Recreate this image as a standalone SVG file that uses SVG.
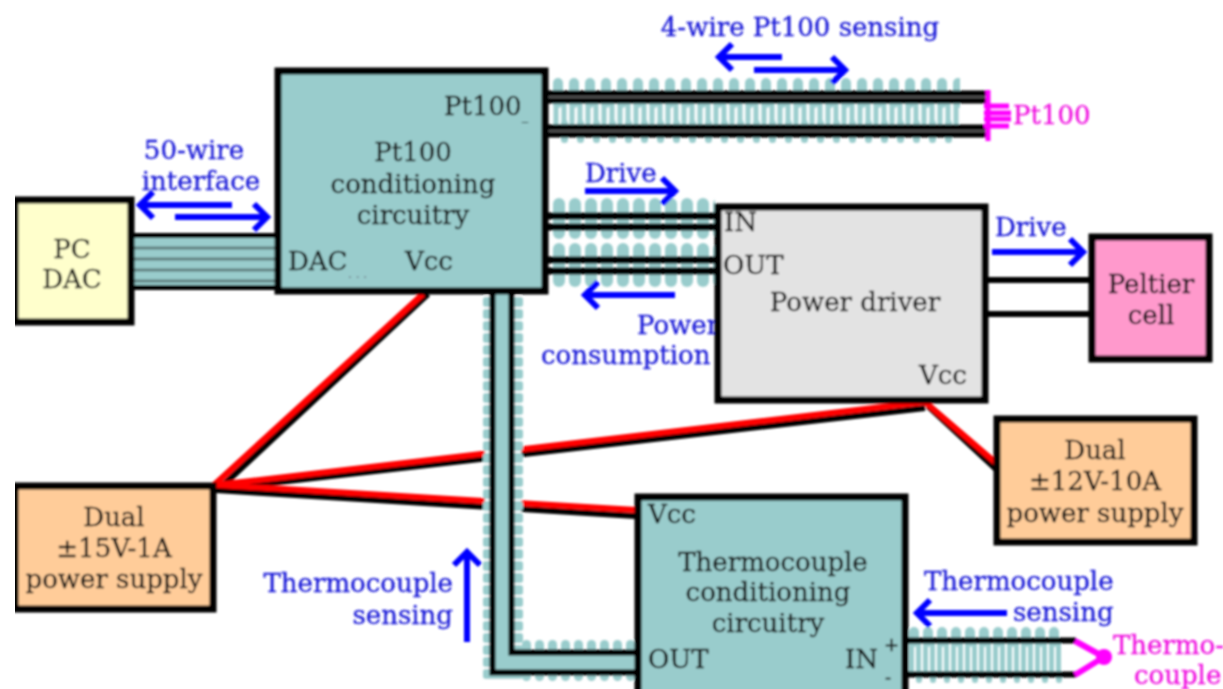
<svg xmlns="http://www.w3.org/2000/svg" width="1223" height="689" viewBox="0 0 1223 689">
<style>
text{font-family:"DejaVu Serif","Liberation Serif",serif;font-size:26px;fill:#111;stroke:#111;stroke-width:.3}
.b{fill:#1c1cd8;stroke:#1c1cd8}.p{fill:#f014e0;stroke:#f014e0}.m{text-anchor:middle}.e{text-anchor:end}
.box{stroke:#000;stroke-width:7}
.w{stroke:#000;fill:none}
.r{stroke:#f00;stroke-width:6;fill:none}
.k{stroke:#000;stroke-width:6;fill:none}
.a{stroke:#00f;stroke-width:6;fill:none;marker-end:url(#ah)}
.pk{stroke:#f0f;fill:none}
</style>
<defs>
<filter id="soft" x="0" y="0" width="100%" height="100%"><feGaussianBlur stdDeviation="0.9"/></filter>
<marker id="ah" markerUnits="userSpaceOnUse" markerWidth="34" markerHeight="34" refX="24" refY="17" orient="auto"><path d="M10 4L23 17L10 30" fill="none" stroke="#00f" stroke-width="6"/></marker>
<pattern id="t1" patternUnits="userSpaceOnUse" x="552" y="78" width="16" height="30"><rect x="1" width="10" height="30" rx="5" fill="#99cccc"/></pattern>
<pattern id="t2" patternUnits="userSpaceOnUse" x="552" y="120" width="16" height="23"><rect x="9" width="7" height="23" rx="3.500" fill="#99cccc"/></pattern>
<pattern id="tm" patternUnits="userSpaceOnUse" x="552" y="100" width="8" height="30"><rect x="1.500" width="5" height="30" fill="#99cccc"/></pattern>
<pattern id="d1" patternUnits="userSpaceOnUse" x="552" y="198" width="16" height="41"><rect x="1" width="12" height="41" rx="6" fill="#99cccc"/></pattern>
<pattern id="d2" patternUnits="userSpaceOnUse" x="552" y="243" width="16" height="44"><rect x="1" width="12" height="44" rx="6" fill="#99cccc"/></pattern>
<pattern id="c1" patternUnits="userSpaceOnUse" x="908" y="627" width="14" height="20"><rect x="1" width="10" height="20" rx="5" fill="#99cccc"/></pattern>
<pattern id="c2" patternUnits="userSpaceOnUse" x="908" y="670" width="14" height="13"><rect x="8" width="6" height="13" rx="3" fill="#99cccc"/></pattern>
<pattern id="cm" patternUnits="userSpaceOnUse" x="908" y="640" width="7" height="36"><rect x="1" width="5" height="36" fill="#99cccc"/></pattern>
<pattern id="v1" patternUnits="userSpaceOnUse" x="483" y="296" width="40" height="12"><rect y="1" width="40" height="10" rx="3" fill="#99cccc"/></pattern>
<pattern id="h1" patternUnits="userSpaceOnUse" x="520" y="640" width="13" height="41"><rect x="2" width="9" height="41" rx="4.500" fill="#99cccc"/></pattern>
</defs>
<rect width="1223" height="689" fill="#fff"/>
<g filter="url(#soft)">
<g id="connectors">
<path class="k" d="M219 489L428 294M218 489L925 408M216 490L636 516M928 406L996 469"/>
<path class="r" d="M214 485L423 294M216 485L925 402M216 485L637 510M925 402L996 463"/>
<rect x="485" y="296" width="36" height="384" fill="#fff"/>
<rect x="483" y="296" width="40" height="384" fill="url(#v1)"/>
<rect x="520" y="640" width="115" height="41" fill="url(#h1)"/>
<path d="M493 294V672H635V652H511V294Z" fill="#99cccc"/>
<path class="w" stroke-width="6" d="M492.500 294V672.500H636M511.500 294V652.500H636"/>
<rect x="134" y="236" width="141" height="52" fill="#99cccc"/>
<path class="w" stroke-width="5" d="M134 235.500H275M134 287.500H275"/>
<path d="M134 248H275M134 259H275M134 270H275M134 281H275" stroke="#5f8080" stroke-width="3" fill="none"/>
<rect x="552" y="78" width="408" height="30" fill="url(#t1)"/>
<rect x="552" y="100" width="408" height="30" fill="url(#tm)"/>
<rect x="552" y="120" width="408" height="23" fill="url(#t2)"/>
<path class="w" stroke-width="13" d="M548 97H988M548 131H988"/>
<path d="M548 97H988M548 131H988" stroke="#555" stroke-width="2" fill="none"/>
<rect x="552" y="198" width="163" height="41" fill="url(#d1)"/>
<rect x="552" y="243" width="163" height="44" fill="url(#d2)"/>
<path class="w" stroke-width="7" d="M548 216H716M548 227H716M548 260H716M548 271H716"/>
<path class="w" stroke-width="6" d="M988 280H1090M988 314H1090"/>
<rect x="908" y="627" width="154" height="20" fill="url(#c1)"/>
<rect x="908" y="640" width="154" height="36" fill="url(#cm)"/>
<rect x="908" y="670" width="154" height="13" fill="url(#c2)"/>
<path class="w" stroke-width="6" d="M908 640.500H1076M908 674.500H1076"/>
<path class="pk" stroke-width="5" d="M988 90V141M984 106H1009M984 113H1011M984 119H1011M984 126H1009"/>
<path class="pk" stroke-width="6" d="M1075 641L1104 657L1075 675"/>
<circle cx="1104" cy="657" r="8" fill="#f0f"/>
<path class="a" d="M232 205H139"/>
<path class="a" d="M175 217H268"/>
<path class="a" d="M782 57H718"/>
<path class="a" d="M754 70H846"/>
<path class="a" d="M585 191H676"/>
<path class="a" d="M675 295H584"/>
<path class="a" d="M992 252H1084"/>
<path class="a" d="M467 642V551"/>
<path class="a" d="M1007 613H916"/>
</g>
<g id="labels">
<text class="b m" x="800" y="36">4-wire Pt100 sensing</text>
<text class="b m" x="194" y="159">50-wire</text>
<text class="b m" x="201" y="190">interface</text>
<text class="b" x="585" y="182">Drive</text>
<text class="b" x="995" y="236">Drive</text>
<text class="b" x="637" y="334">Power</text>
<text class="b" x="541" y="364">consumption</text>
<text class="b e" x="453" y="592">Thermocouple</text>
<text class="b e" x="453" y="624">sensing</text>
<text class="b" x="924" y="590">Thermocouple</text>
<text class="b" x="1013" y="621">sensing</text>
<text class="p" x="1013" y="124">Pt100</text>
<text class="p" x="1113" y="654">Thermo-</text>
<text class="p" x="1134" y="684">couple</text>
</g>
<g id="pc-dac"><rect class="box" x="15" y="200" width="116" height="122" fill="#ffffcc"/>
<text class="m" x="72" y="258">PC</text><text class="m" x="72" y="288">DAC</text></g>
<g id="pt100-conditioning"><rect class="box" x="278" y="71" width="267" height="220" fill="#99cccc"/>
<text x="444" y="115">Pt100</text><text x="522" y="120" style="font-size:12px">_</text>
<text class="m" x="413" y="161">Pt100</text><text class="m" x="413" y="193">conditioning</text><text class="m" x="413" y="224">circuitry</text>
<text x="288" y="270">DAC</text><text x="348" y="278" style="font-size:12px;fill:#667;stroke:none">. . .</text><text x="405" y="270">Vcc</text></g>
<g id="power-driver"><rect class="box" x="718" y="207" width="267" height="193" fill="#e3e3e3"/>
<text x="724" y="231">IN</text><text x="723" y="274">OUT</text><text class="m" x="855" y="311">Power driver</text><text x="919" y="384">Vcc</text></g>
<g id="peltier"><rect class="box" x="1092" y="237" width="117" height="122" fill="#ff99cc"/>
<text class="m" x="1151" y="293">Peltier</text><text class="m" x="1151" y="324">cell</text></g>
<g id="supply-12v"><rect class="box" x="997" y="419" width="197" height="123" fill="#ffcc99"/>
<text class="m" x="1095" y="459">Dual</text><text class="m" x="1095" y="490">±12V-10A</text><text class="m" x="1095" y="522">power supply</text></g>
<g id="supply-15v"><rect class="box" x="15" y="486" width="198" height="123" fill="#ffcc99"/>
<text class="m" x="114" y="526">Dual</text><text class="m" x="114" y="557">±15V-1A</text><text class="m" x="114" y="588">power supply</text></g>
<g id="thermocouple-conditioning"><rect class="box" x="638" y="497" width="267" height="200" fill="#99cccc"/>
<text x="648" y="523">Vcc</text><text class="m" x="773" y="571">Thermocouple</text><text class="m" x="768" y="601">conditioning</text><text class="m" x="768" y="632">circuitry</text>
<text x="648" y="668">OUT</text><text x="845" y="668">IN</text><text x="884" y="651" style="font-size:18px">+</text><text x="885" y="684" style="font-size:18px">-</text></g>
</g>
</svg>
